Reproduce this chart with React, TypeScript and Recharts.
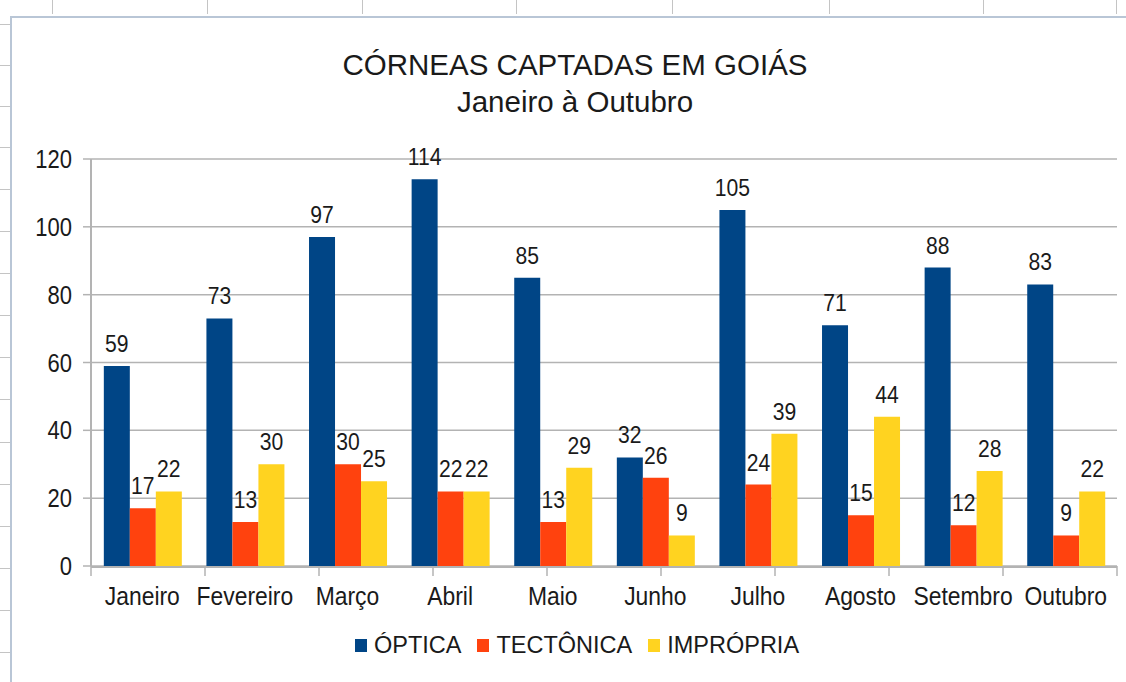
import React from 'react';
import { BarChart, Bar, XAxis, YAxis, CartesianGrid, LabelList } from 'recharts';

const months = ['Janeiro', 'Fevereiro', 'Março', 'Abril', 'Maio', 'Junho', 'Julho', 'Agosto', 'Setembro', 'Outubro'];
const optica = [59, 73, 97, 114, 85, 32, 105, 71, 88, 83];
const tectonica = [17, 13, 30, 22, 13, 26, 24, 15, 12, 9];
const impropria = [22, 30, 25, 22, 29, 9, 39, 44, 28, 22];
const yTicks = [0, 20, 40, 60, 80, 100, 120];
const boundaryTicks = [0, 1, 2, 3, 4, 5, 6, 7, 8, 9, 10];

const series = [
  { key: 'optica', name: 'ÓPTICA', color: '#004586' },
  { key: 'tectonica', name: 'TECTÔNICA', color: '#ff420e' },
  { key: 'impropria', name: 'IMPRÓPRIA', color: '#ffd320' },
];

const data = months.map((m, i) => ({
  month: m,
  optica: optica[i],
  tectonica: tectonica[i],
  impropria: impropria[i],
}));

// spreadsheet frame around the embedded chart
const colMarks = [52, 207, 362, 516, 672, 829, 983, 1116];
const rowMarks = [24, 65, 106, 147, 189, 231, 273, 315, 357, 399, 442, 484, 526, 568, 610, 652];

const font = '"Liberation Sans", Arial, sans-serif';
const gridColor = '#b3b3b3';
const textColor = '#1a1a1a';
const squeeze = 0.88; // the screenshot text is a bit narrow

const XTick = (props: any) => {
  const { x, y, payload } = props;
  return (
    <text
      transform={`translate(${x},${y}) scale(${squeeze},1)`}
      textAnchor="middle"
      dy="0.71em"
      fontSize={26}
      fontFamily={font}
      fill={textColor}
    >
      {payload.value}
    </text>
  );
};

const EmptyTick = () => <g />;

const YTick = (props: any) => {
  const { x, y, payload } = props;
  return (
    <text
      transform={`translate(${x},${y}) scale(${squeeze},1)`}
      textAnchor="end"
      dy="0.36em"
      fontSize={25}
      fontFamily={font}
      fill={textColor}
    >
      {payload.value}
    </text>
  );
};

const ValueLabel = (props: any) => {
  const { x, y, width, value } = props;
  return (
    <text
      transform={`translate(${x + width / 2},${y - 14}) scale(${squeeze},1)`}
      textAnchor="middle"
      fontSize={24}
      fontFamily={font}
      fill={textColor}
    >
      {value}
    </text>
  );
};

const App: React.FC = () => {
  return (
    <div style={{ position: 'absolute', left: 0, top: 0, width: 1126, height: 682, background: '#fff', fontFamily: font, overflow: 'hidden' }}>
      <div style={{ position: 'absolute', left: 10, top: 16, right: 0, height: 0, borderTop: '2px solid #b9c6d6' }} />
      <div style={{ position: 'absolute', left: 10, top: 16, bottom: 0, width: 0, borderLeft: '2px solid #b9c6d6' }} />
      {colMarks.map((x) => (
        <div key={`c${x}`} style={{ position: 'absolute', left: x, top: 0, width: 1, height: 14, background: '#c4c4c4' }} />
      ))}
      {rowMarks.map((y) => (
        <div key={`r${y}`} style={{ position: 'absolute', left: 0, top: y, width: 10, height: 1, background: '#c4c4c4' }} />
      ))}

      <div style={{ position: 'absolute', left: 0, width: 1150, top: 48, textAlign: 'center', fontSize: 29.5, color: textColor, lineHeight: '34px' }}>
        CÓRNEAS CAPTADAS EM GOIÁS
      </div>
      <div style={{ position: 'absolute', left: 0, width: 1150, top: 85, textAlign: 'center', fontSize: 29.5, color: textColor, lineHeight: '34px' }}>
        Janeiro à Outubro
      </div>

      <div style={{ position: 'absolute', left: 0, top: 0 }}>
        <BarChart
          width={1126}
          height={682}
          data={data}
          margin={{ top: 159, right: 9, bottom: 0, left: 0 }}
          barCategoryGap="12.5%"
          barGap={0}
        >
          <CartesianGrid xAxisId="months" vertical={false} stroke={gridColor} strokeWidth={1.5} />
          <XAxis
            xAxisId="bounds"
            type="number"
            domain={[0, 10]}
            ticks={boundaryTicks}
            tick={<EmptyTick />}
            tickSize={10}
            height={1}
            axisLine={false}
            tickLine={{ stroke: gridColor, strokeWidth: 1.5 }}
            interval={0}
          />
          <XAxis
            xAxisId="months"
            dataKey="month"
            height={115}
            tickLine={false}
            tickSize={10}
            tickMargin={10}
            axisLine={{ stroke: gridColor, strokeWidth: 2 }}
            tick={<XTick />}
            interval={0}
          />
          <YAxis
            width={91}
            domain={[0, 120]}
            ticks={yTicks}
            tickSize={8}
            tickMargin={11}
            axisLine={{ stroke: gridColor, strokeWidth: 2 }}
            tickLine={{ stroke: gridColor, strokeWidth: 1.5 }}
            tick={<YTick />}
          />
          <YAxis
            yAxisId="frame"
            orientation="right"
            width={0}
            tick={false}
            tickLine={false}
            axisLine={{ stroke: gridColor, strokeWidth: 2 }}
          />
          {series.map((s) => (
            <Bar key={s.key} xAxisId="months" dataKey={s.key} name={s.name} fill={s.color} isAnimationActive={false}>
              <LabelList dataKey={s.key} content={<ValueLabel />} />
            </Bar>
          ))}
        </BarChart>
      </div>

      <div style={{ position: 'absolute', left: 0, width: 1126, top: 632, display: 'flex', justifyContent: 'center', alignItems: 'center', fontSize: 23.5, color: textColor, paddingLeft: 44, boxSizing: 'border-box' }}>
        {series.map((s) => (
          <div key={s.key} style={{ display: 'flex', alignItems: 'center', marginRight: 16 }}>
            <span style={{ display: 'inline-block', width: 12, height: 13, background: s.color, marginRight: 7 }} />
            <span>{s.name}</span>
          </div>
        ))}
      </div>
    </div>
  );
};

export default App;
